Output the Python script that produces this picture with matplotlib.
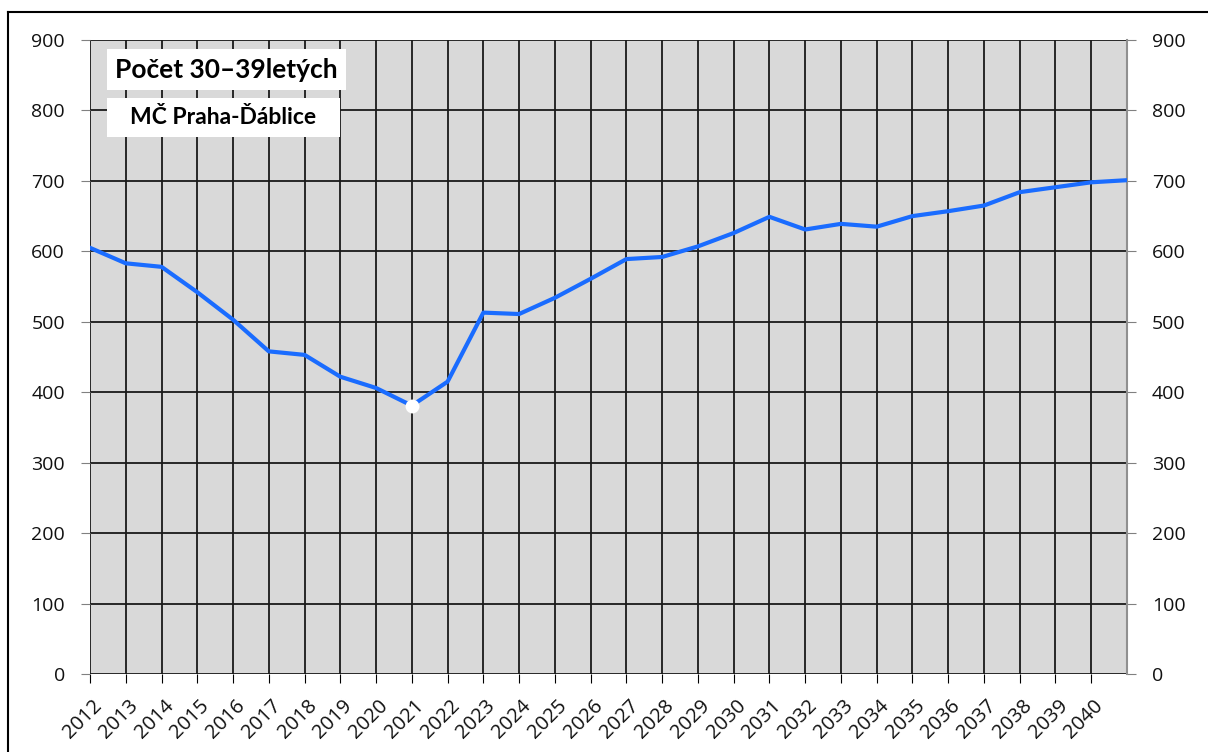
import matplotlib
matplotlib.use("Agg")
import matplotlib.pyplot as plt
from matplotlib.patches import Rectangle
from matplotlib.lines import Line2D
from matplotlib.transforms import ScaledTranslation

plt.rcParams['font.family'] = ['Open Sans', 'DejaVu Sans']

# data
years = list(range(2012, 2042))
counts = [605, 583, 578, 542, 503, 458, 453, 422, 406, 381,
          415, 513, 511, 534, 561, 589, 592, 607, 626, 649,
          631, 639, 635, 650, 657, 665, 684, 691, 698, 701]
highlight_year = 2021
tick_years = list(range(2012, 2041))
y_ticks = list(range(0, 901, 100))
title = "Počet 30–39letých"
subtitle = "MČ Praha-Ďáblice"

W, H = 1208, 752
fig = plt.figure(figsize=(W / 100, H / 100), dpi=100)
ax = fig.add_axes([90 / W, 1 - 674 / H, (1127 - 90) / W, (674 - 40) / H])
ax.set_facecolor('#d9d9d9')

ax.plot(years, counts, color='#1a6cff', lw=3, zorder=3)
hi = years.index(highlight_year)
ax.plot(years[hi], counts[hi], 'o', color='white', ms=10, mec='none', zorder=4)

ax.set_xlim(2012, 2041)
ax.set_ylim(0, 900)
ax.set_xticks(tick_years)
ax.set_xticklabels([str(y) for y in tick_years], rotation=45, ha='right',
                   rotation_mode='anchor', fontsize=14.5, color='#111111')
ax.set_yticks(y_ticks)
ax.tick_params(axis='y', labelsize=14, length=6.5, color='#808080',
               labelcolor='#111111', pad=11.5, right=True, labelright=True)
ax.tick_params(axis='x', length=6.5, color='black', pad=9)

# nudge the rotated year labels a little to the right
offset = ScaledTranslation(1.5 / 72, 0, fig.dpi_scale_trans)
for lab in ax.get_xticklabels():
    lab.set_transform(lab.get_transform() + offset)

# vertical grid (all years incl. last) and horizontal grid
for yr in years:
    ax.axvline(yr, color='#1a1a1a', lw=1.3, zorder=1)
for v in y_ticks:
    ax.axhline(v, color='#1a1a1a', lw=1.3, zorder=1)

for side in ['top', 'left', 'bottom']:
    ax.spines[side].set_visible(False)
ax.spines['right'].set_color('#909090')
ax.spines['right'].set_linewidth(1.5)

# title boxes (pixel coords -> axes fraction)
def px(x, y):
    return ((x - 90) / 1037, (674 - y) / 634)

for (x0, y0, x1, y1), txt, fs in [((107, 49, 346, 90), title, 19),
                                  ((107, 98, 340, 137), subtitle, 16.5)]:
    bx, by = px(x0, y1)
    bw = (x1 - x0) / 1037
    bh = (y1 - y0) / 634
    ax.add_patch(Rectangle((bx, by), bw, bh, transform=ax.transAxes,
                           facecolor='white', edgecolor='none', zorder=5))
    ax.text(bx + bw / 2, by + bh / 2, txt, transform=ax.transAxes,
            ha='center', va='center', fontsize=fs, fontweight='bold',
            family=['Lato', 'DejaVu Sans'], color='black', zorder=6)

# outer frame of the chart
fig.add_artist(Line2D([8 / W, 8 / W], [0, 1 - 12 / H], color='black', lw=1.5))
fig.add_artist(Line2D([8 / W, 1], [1 - 12 / H, 1 - 12 / H], color='black', lw=1.5))

fig.savefig('out.png', dpi=100)
